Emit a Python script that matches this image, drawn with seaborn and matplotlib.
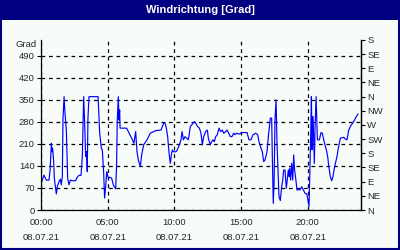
import matplotlib
matplotlib.use("Agg")
import matplotlib.pyplot as plt
import seaborn as sns
import pandas as pd
from matplotlib.patches import Rectangle

# ---- data (hours since 08.07.21 00:00, wind direction in degrees) ----
hours = [0.0, 0.22, 0.4, 0.6, 0.68, 0.78, 0.82, 0.87, 0.95, 1.0, 1.15, 1.22, 1.35, 1.45,
         1.52, 1.6, 1.65, 1.73, 1.78, 1.9, 2.0, 2.1, 2.2, 2.35, 2.6, 2.7, 2.85, 3.0, 3.1,
         3.2, 3.27, 3.35, 3.42, 3.47, 3.52, 3.6, 4.28, 4.4, 4.52, 4.6, 4.7, 4.77, 4.85,
         4.93, 5.05, 5.15, 5.3, 5.42, 5.6, 5.67, 5.72, 5.8, 5.85, 5.9, 5.93, 6.42, 6.55,
         6.8, 6.97, 7.1, 7.2, 7.3, 7.45, 7.55, 7.7, 7.95, 8.2, 8.6, 9.0, 9.2, 9.3, 9.4,
         9.5, 9.55, 9.62, 9.7, 9.78, 9.85, 9.93, 10.13, 10.22, 10.38, 10.5, 10.58, 10.68,
         10.8, 10.92, 11.05, 11.2, 11.4, 11.5, 11.6, 11.75, 11.88, 12.0, 12.1, 12.2,
         12.35, 12.48, 12.55, 12.7, 12.8, 12.9, 13.0, 13.1, 13.22, 13.35, 13.47, 13.6,
         13.7, 13.85, 13.95, 14.08, 14.2, 14.32, 14.45, 14.55, 14.65, 14.88, 15.05,
         15.3, 15.45, 15.6, 15.75, 15.9, 16.1, 16.25, 16.35, 16.5, 16.6, 16.7, 16.8,
         16.95, 17.05, 17.12, 17.2, 17.3, 17.35, 17.42, 17.48, 17.55, 17.63, 17.7,
         17.85, 17.95, 18.05, 18.13, 18.2, 18.3, 18.35, 18.4, 18.48, 18.55, 18.6,
         18.65, 18.72, 18.8, 18.88, 18.95, 19.02, 19.1, 19.2, 19.3, 19.43, 19.55,
         19.68, 19.8, 19.93, 20.0, 20.1, 20.15, 20.23, 20.28, 20.33, 20.38, 20.44,
         20.5, 20.55, 20.6, 20.63, 20.73, 20.88, 21.0, 21.1, 21.2, 21.4, 21.5, 21.57,
         21.7, 21.8, 21.9, 22.0, 22.2, 22.3, 22.45, 22.7, 22.8, 22.95, 23.08, 23.2,
         23.45, 23.65, 23.78]
direction = [82, 111, 95, 95, 127, 212, 185, 196, 154, 101, 51, 74, 90, 98,
             80, 106, 290, 360, 320, 254, 101, 80, 95, 93, 93, 103, 110, 110, 170,
             360, 281, 170, 185, 122, 290, 360, 360, 245, 197, 190, 118, 38, 74,
             122, 101, 104, 101, 80, 67, 143, 286, 360, 286, 318, 260, 260, 249,
             228, 212, 249, 185, 159, 138, 175, 207, 223, 244, 252, 254, 276, 276, 260,
             233, 207, 175, 148, 175, 191, 185, 185, 191, 207, 223, 249, 223,
             233, 228, 223, 265, 276, 281, 276, 265, 260, 244, 207, 233,
             249, 254, 228, 207, 217, 223, 217, 233, 239, 260, 249, 254,
             244, 249, 254, 244, 233, 233, 244, 239, 244, 241, 246,
             246, 246, 223, 223, 239, 244, 239, 217, 196, 185, 154, 159,
             185, 233, 260, 292, 292, 170, 21, 85, 286, 350, 212,
             42, 30, 74, 95, 127, 127, 95, 69, 101, 127, 106,
             133, 95, 148, 95, 175, 127, 101, 64, 64, 64, 74,
             64, 53, 51, 37, 11, 95, 244, 360, 191, 297, 244,
             148, 254, 318, 360, 223, 223, 246, 244, 223, 191, 170, 143,
             106, 93, 106, 133, 170, 196, 228, 231, 226, 223, 254, 265,
             281, 297, 305]

left_ticks = [0, 70, 140, 210, 280, 350, 420, 490]
right_ticks = [0, 45, 90, 135, 180, 225, 270, 315, 360, 405, 450, 495, 540]
right_labels = ["N", "NE", "E", "SE", "S", "SW", "W", "NW", "N", "NE", "E", "SE", "S"]
x_ticks = [0, 5, 10, 15, 20]
x_labels = ["00:00\n08.07.21", "05:00\n08.07.21", "10:00\n08.07.21",
            "15:00\n08.07.21", "20:00\n08.07.21"]
title = "Windrichtung [Grad]"
unit = "Grad"

sns.set_style("white")
plt.rcParams["font.family"] = ["Liberation Sans", "DejaVu Sans"]

navy = "#000080"
bg = "#F8FCF8"
fig = plt.figure(figsize=(4, 2.5), dpi=100, facecolor=bg)
ax = fig.add_axes([41 / 400, 1 - 210 / 250, 320 / 400, 170 / 250])
ax.set_facecolor(bg)

df = pd.DataFrame({"h": hours, "deg": direction})
sns.lineplot(data=df, x="h", y="deg", ax=ax, color="#0000FF", linewidth=0.85,
             estimator=None, sort=False)

ax.set_xlim(0, 24)
ax.set_ylim(0, 540)
ax.set_xticks(x_ticks)
ax.set_xticklabels(x_labels, fontsize=6.8, linespacing=1.75)
ax.set_xticks(range(0, 25), minor=True)
ax.set_yticks(left_ticks)
ax.set_yticklabels([str(v) for v in left_ticks], fontsize=6.8)
ax.set_xlabel("")
ax.set_ylabel("")
ax.tick_params(axis="x", which="major", length=4, width=0.8, color="black", pad=2)
ax.tick_params(axis="x", which="minor", length=3, width=0.8, color="black")
ax.tick_params(axis="y", length=3, width=0.8, color="black", pad=1.5)
ax.grid(True, which="major", color="black", linestyle=(0, (3, 3)), linewidth=0.9)
for s in ["left", "bottom", "right"]:
    ax.spines[s].set_visible(True)
    ax.spines[s].set_color("black")
    ax.spines[s].set_linewidth(0.9)
ax.spines["top"].set_visible(False)

ax2 = ax.twinx()
ax2.set_ylim(0, 540)
ax2.set_yticks(right_ticks)
ax2.set_yticklabels(right_labels, fontsize=6.8)
ax2.tick_params(axis="y", length=3, width=0.8, color="black", pad=1.5)
ax2.grid(False)
for s in ["top", "left", "bottom"]:
    ax2.spines[s].set_visible(False)
ax2.spines["right"].set_color("black")
ax2.spines["right"].set_linewidth(0.9)

ax.text(-0.015, 1.0, unit, transform=ax.transAxes, ha="right", va="top", fontsize=6.8)

fig.patches.append(Rectangle((0, 1 - 20 / 250), 1, 20 / 250, transform=fig.transFigure,
                             facecolor=navy, edgecolor="none", zorder=0))
fig.patches.append(Rectangle((0.002, 0.004), 0.996, 0.992, transform=fig.transFigure,
                             facecolor="none", edgecolor=navy, linewidth=1.5, zorder=5))
fig.text(0.5, 1 - 10 / 250, title, ha="center", va="center", color="white",
         fontsize=8, fontweight="bold")

fig.savefig("out.png", dpi=100, facecolor=bg)
